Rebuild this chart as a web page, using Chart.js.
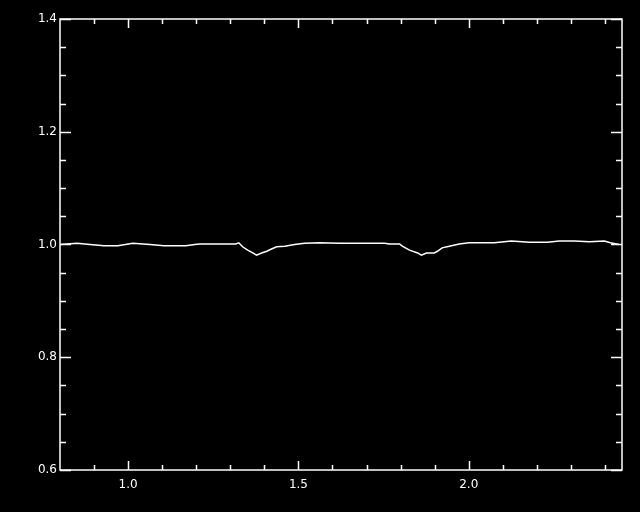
<!DOCTYPE html>
<html>
<head>
<meta charset="utf-8">
<script src="https://cdn.jsdelivr.net/npm/chart.js@4"></script>
<style>
  html, body { margin: 0; padding: 0; background: #000; }
  #wrap { width: 640px; height: 512px; }
</style>
</head>
<body>
<div id="wrap"><canvas id="chart" width="640" height="512"></canvas></div>
<script>
// wavelength (x) and normalised flux (y)
const waveX = [0.800, 0.850, 0.888, 0.929, 0.970, 1.014, 1.064, 1.105, 1.169, 1.196,
  1.210, 1.269, 1.316, 1.325, 1.336, 1.351, 1.366, 1.377, 1.392, 1.407,
  1.421, 1.436, 1.460, 1.489, 1.518, 1.562, 1.621, 1.679, 1.753, 1.767,
  1.797, 1.805, 1.826, 1.850, 1.861, 1.876, 1.899, 1.908, 1.922, 1.943,
  1.972, 2.001, 2.031, 2.075, 2.125, 2.178, 2.231, 2.266, 2.310, 2.354,
  2.398, 2.416, 2.441];
const fluxY = [1.000, 1.002, 1.000, 0.998, 0.998, 1.002, 1.000, 0.998, 0.998, 1.000,
  1.001, 1.001, 1.001, 1.003, 0.996, 0.990, 0.985, 0.981, 0.985, 0.988,
  0.992, 0.996, 0.997, 1.000, 1.002, 1.003, 1.002, 1.002, 1.002, 1.001,
  1.001, 0.997, 0.990, 0.985, 0.981, 0.985, 0.985, 0.988, 0.994, 0.997,
  1.001, 1.003, 1.003, 1.003, 1.006, 1.004, 1.004, 1.006, 1.006, 1.005,
  1.006, 1.003, 1.000];

const xRange = [0.8, 2.45];
const yRange = [0.6, 1.4];
const xMajor = [1.0, 1.5, 2.0];
const xMinor = [0.9, 1.1, 1.2, 1.3, 1.4, 1.6, 1.7, 1.8, 1.9, 2.1, 2.2, 2.3, 2.4];
const yMajor = [0.6, 0.8, 1.0, 1.2, 1.4];
const yMinor = [0.65, 0.7, 0.75, 0.85, 0.9, 0.95, 1.05, 1.1, 1.15, 1.25, 1.3, 1.35];

const points = waveX.map((x, i) => ({ x: x, y: fluxY[i] }));

// IDL style box with inward ticks on all four sides
const boxPlugin = {
  id: "box",
  beforeDraw(chart) {
    const c = chart.ctx;
    c.save();
    c.fillStyle = "#000";
    c.fillRect(0, 0, chart.width, chart.height);
    c.restore();
  },
  afterDraw(chart) {
    const c = chart.ctx;
    const a = chart.chartArea;
    const sx = chart.scales.x, sy = chart.scales.y;
    c.save();
    c.strokeStyle = "#fff";
    c.lineWidth = 1.5;
    c.strokeRect(a.left, a.top, a.right - a.left, a.bottom - a.top);
    c.beginPath();
    const xt = (v, len) => {
      const p = Math.round(sx.getPixelForValue(v)) + 0.5;
      c.moveTo(p, a.bottom); c.lineTo(p, a.bottom - len);
      c.moveTo(p, a.top); c.lineTo(p, a.top + len);
    };
    const yt = (v, len) => {
      const p = Math.round(sy.getPixelForValue(v)) + 0.5;
      c.moveTo(a.left, p); c.lineTo(a.left + len, p);
      c.moveTo(a.right, p); c.lineTo(a.right - len, p);
    };
    xMajor.forEach(v => xt(v, 9));
    xMinor.forEach(v => xt(v, 5));
    yMajor.forEach(v => yt(v, 11));
    yMinor.forEach(v => yt(v, 6));
    c.stroke();
    c.restore();
  }
};

new Chart(document.getElementById("chart"), {
  type: "line",
  data: {
    datasets: [{
      data: points,
      borderColor: "#fff",
      borderWidth: 1.5,
      pointRadius: 0,
      tension: 0,
      fill: false
    }]
  },
  options: {
    responsive: false,
    animation: false,
    events: [],
    layout: { padding: { top: 19, right: 18, left: 0, bottom: 0 } },
    plugins: { legend: { display: false }, tooltip: { enabled: false } },
    scales: {
      x: {
        type: "linear",
        min: xRange[0], max: xRange[1],
        afterFit: s => { s.height = 42; },
        afterBuildTicks: s => { s.ticks = xMajor.map(v => ({ value: v })); },
        grid: { display: false, drawTicks: false },
        border: { display: false },
        ticks: {
          color: "#fff",
          padding: 8,
          maxRotation: 0,
          font: { family: "DejaVu Sans", size: 12 },
          callback: v => v.toFixed(1)
        }
      },
      y: {
        type: "linear",
        min: yRange[0], max: yRange[1],
        afterFit: s => { s.width = 60; },
        afterBuildTicks: s => { s.ticks = yMajor.map(v => ({ value: v })); },
        grid: { display: false, drawTicks: false },
        border: { display: false },
        ticks: {
          color: "#fff",
          padding: 3,
          font: { family: "DejaVu Sans", size: 12 },
          callback: v => v.toFixed(1)
        }
      }
    }
  },
  plugins: [boxPlugin]
});
</script>
</body>
</html>
